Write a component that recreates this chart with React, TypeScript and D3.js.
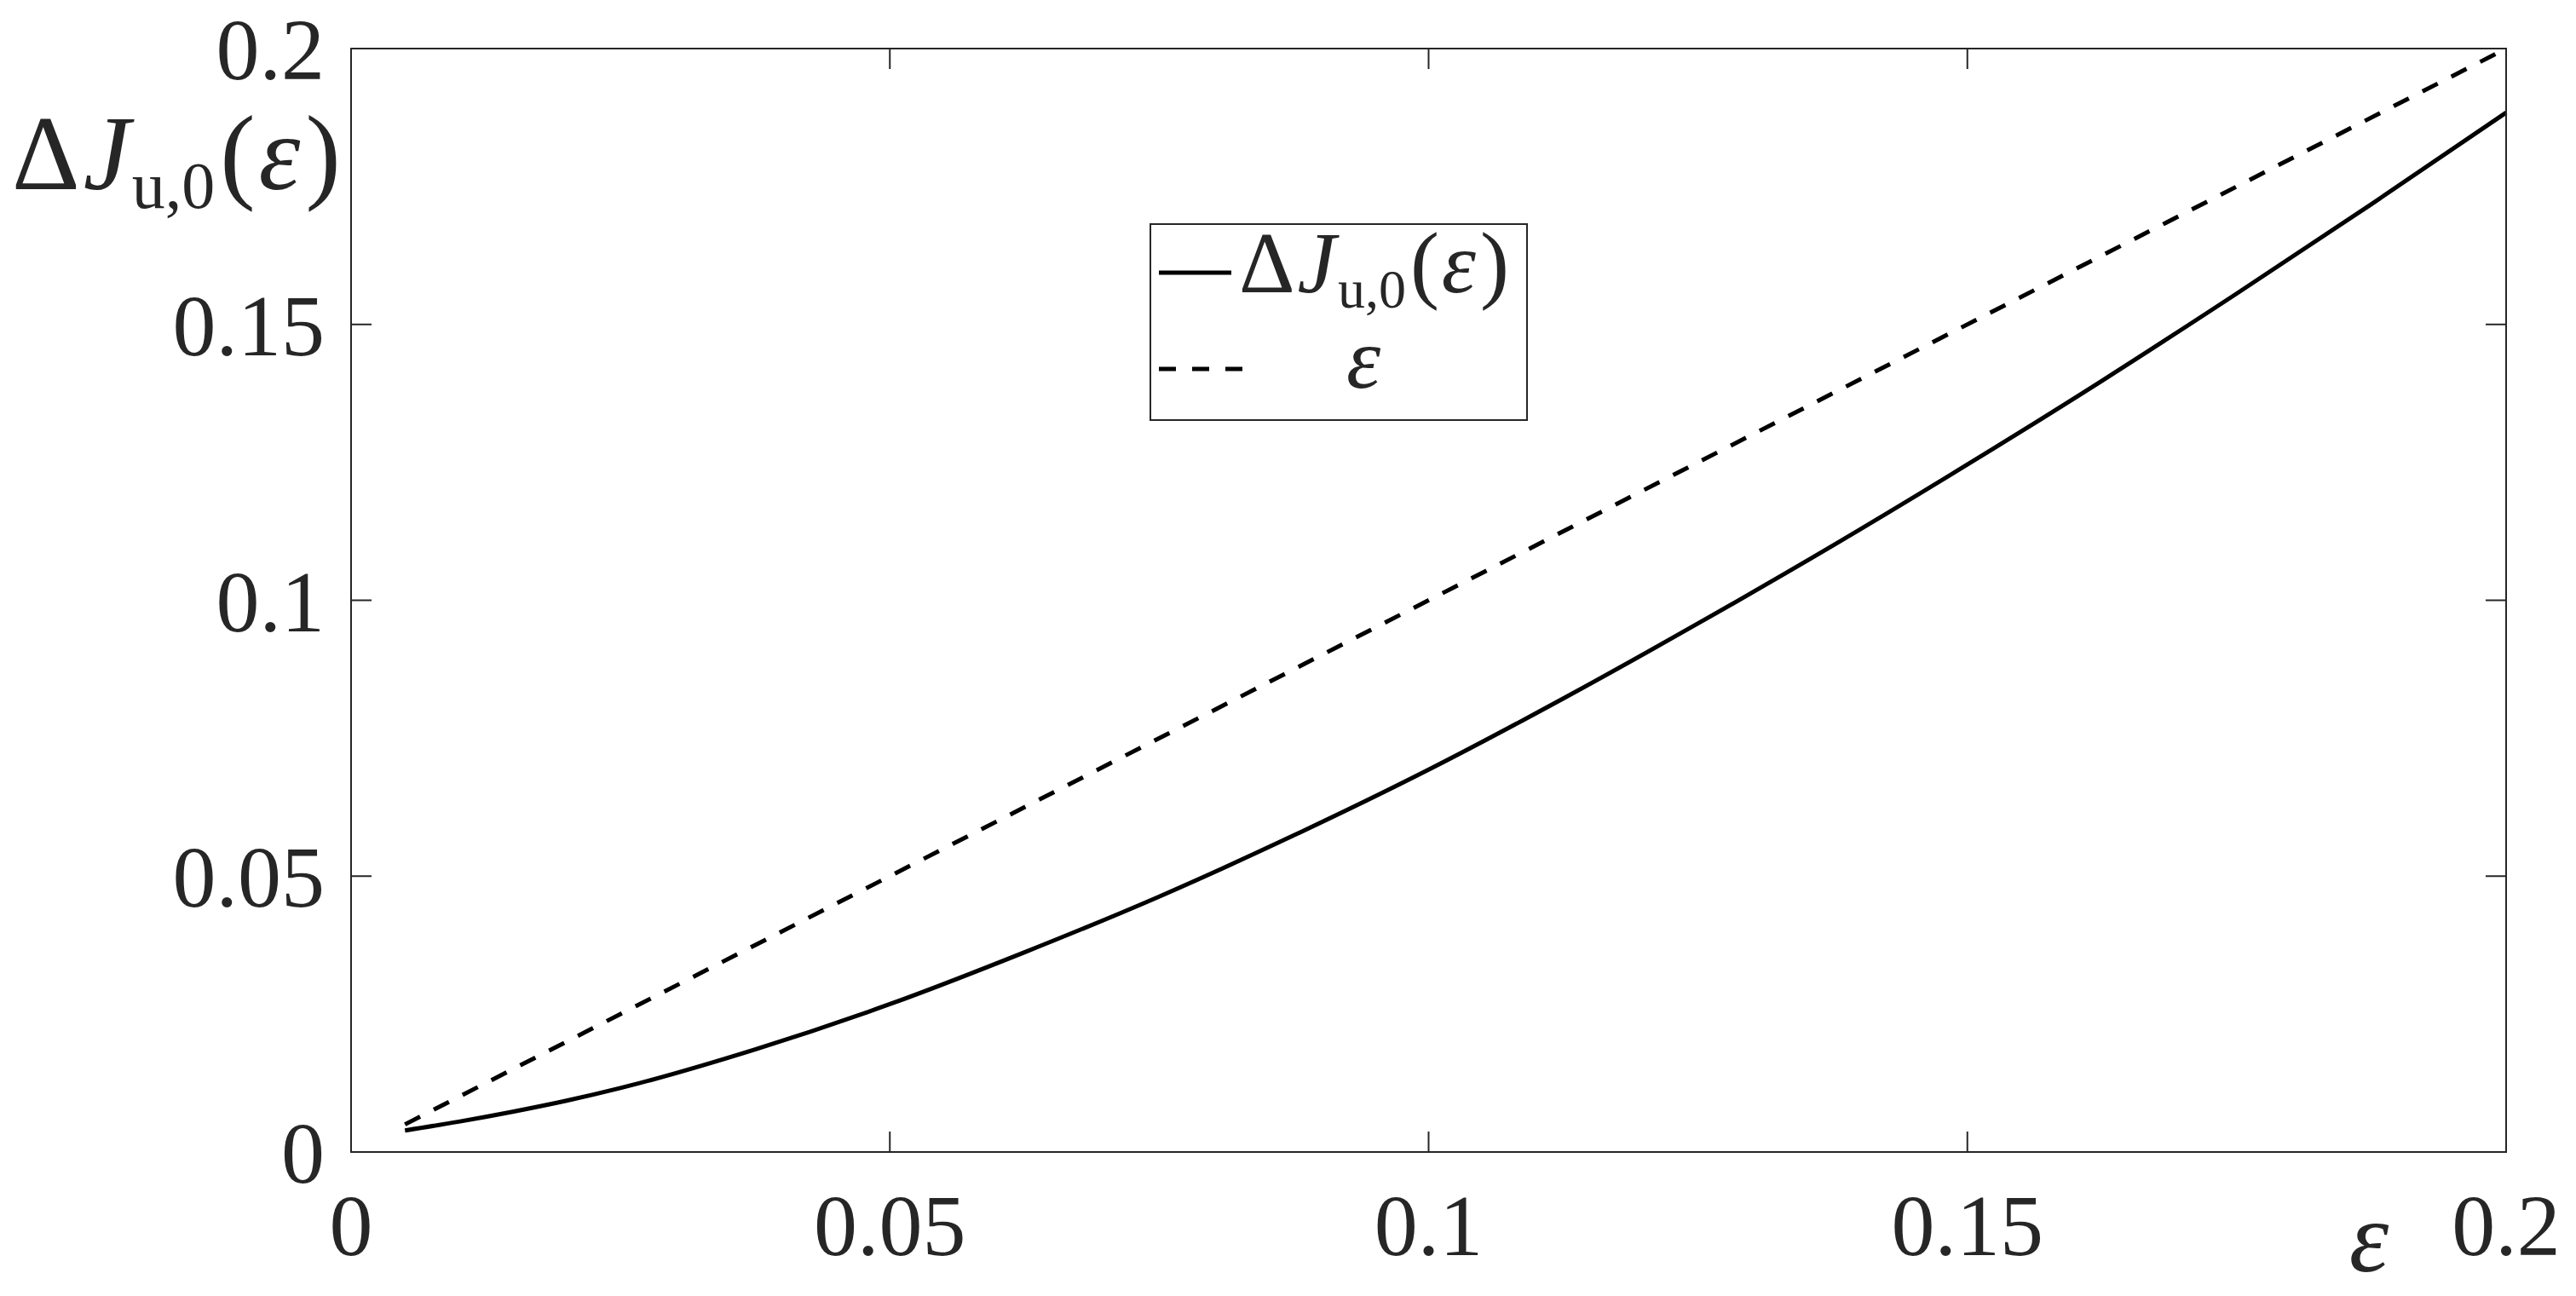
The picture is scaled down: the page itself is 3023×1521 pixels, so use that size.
import React from "react";
import * as d3 from "d3";

const epsValues = [0.005, 0.01, 0.015, 0.02, 0.025, 0.0375, 0.05, 0.0625, 0.075, 0.0875, 0.1, 0.1125, 0.125, 0.1375, 0.15, 0.1625, 0.175, 0.1875, 0.2];
const deltaJValues = [0.0039, 0.0055, 0.0073, 0.0093, 0.0116, 0.0186, 0.0268, 0.0362, 0.0463, 0.0574, 0.0693, 0.0822, 0.0958, 0.1099, 0.1246, 0.1398, 0.1556, 0.1718, 0.1884];
const identityEps = [0.005, 0.2];
const xTicks = [0, 0.05, 0.1, 0.15, 0.2];
const yTicks = [0, 0.05, 0.1, 0.15, 0.2];
const xTickLabels = ["0", "0.05", "0.1", "0.15", "0.2"];
const yTickLabels = ["0", "0.05", "0.1", "0.15", "0.2"];

const W = 3023, H = 1521;
const L = 412, R = 2941, T = 57, B = 1352;
const FONT = "'Liberation Serif', 'Times New Roman', serif";

export default function App() {
  const x = d3.scaleLinear().domain([0, 0.2]).range([L, R]);
  const y = d3.scaleLinear().domain([0, 0.2]).range([B, T]);
  const solid = d3.line<number>().x((_, i) => x(epsValues[i])).y((d) => y(d)).curve(d3.curveMonotoneX)(deltaJValues) || "";
  const dashed = d3.line<number>().x((d) => x(d)).y((d) => y(d))(identityEps) || "";
  const tickLen = 24;
  const axisColor = "#262626";
  return (
    <div style={{ position: "fixed", left: 0, top: 0, width: W, height: H, background: "#fff" }}>
      <svg width={W} height={H} style={{ display: "block" }}>
        <rect x={0} y={0} width={W} height={H} fill="#fff" />
        <g>
          <path d={dashed} fill="none" stroke="#000" strokeWidth={5} strokeDasharray="20 18" />
          <path d={solid} fill="none" stroke="#000" strokeWidth={5} />
        </g>
        <rect x={L} y={T} width={R - L} height={B - T} fill="none" stroke={axisColor} strokeWidth={2} />
        {xTicks.map((t, i) => (
          <g key={"xt" + i}>
            <line x1={x(t)} x2={x(t)} y1={B} y2={B - tickLen} stroke={axisColor} strokeWidth={2} />
            <line x1={x(t)} x2={x(t)} y1={T} y2={T + tickLen} stroke={axisColor} strokeWidth={2} />
            <text x={x(t)} y={1473} fontFamily={FONT} fontSize={102} textAnchor="middle" fill="#262626">{xTickLabels[i]}</text>
          </g>
        ))}
        {yTicks.map((t, i) => (
          <g key={"yt" + i}>
            <line x1={L} x2={L + tickLen} y1={y(t)} y2={y(t)} stroke={axisColor} strokeWidth={2} />
            <line x1={R} x2={R - tickLen} y1={y(t)} y2={y(t)} stroke={axisColor} strokeWidth={2} />
            <text x={381} y={y(t) + 36} fontFamily={FONT} fontSize={102} textAnchor="end" fill="#262626">{yTickLabels[i]}</text>
          </g>
        ))}
        <text x={14} y={222} fontFamily={FONT} fontSize={124} fill="#262626">
          <tspan>Δ</tspan>
          <tspan fontStyle="italic" dx={4}>J</tspan>
          <tspan fontSize={78} dy={22} dx={2}>u,0</tspan>
          <tspan dy={-22} dx={6}>(</tspan>
          <tspan fontStyle="italic" dx={4}>ε</tspan>
          <tspan dx={6}>)</tspan>
        </text>
        <text x={2780} y={1492} fontFamily={FONT} fontSize={118} fontStyle="italic" textAnchor="middle" fill="#262626">ε</text>
        <rect x={1350} y={263} width={442} height={230} fill="#fff" stroke={axisColor} strokeWidth={2} />
        <line x1={1360} x2={1445} y1={320} y2={320} stroke="#000" strokeWidth={5} />
        <line x1={1360} x2={1462} y1={433} y2={433} stroke="#000" strokeWidth={5} strokeDasharray="20 19" />
        <text x={1454} y={343} fontFamily={FONT} fontSize={102} fill="#262626">
          <tspan>Δ</tspan>
          <tspan fontStyle="italic" dx={3}>J</tspan>
          <tspan fontSize={64} dy={18} dx={2}>u,0</tspan>
          <tspan dy={-18} dx={5}>(</tspan>
          <tspan fontStyle="italic" dx={3}>ε</tspan>
          <tspan dx={5}>)</tspan>
        </text>
        <text x={1600} y={455} fontFamily={FONT} fontSize={102} fontStyle="italic" textAnchor="middle" fill="#262626">ε</text>
      </svg>
    </div>
  );
}
